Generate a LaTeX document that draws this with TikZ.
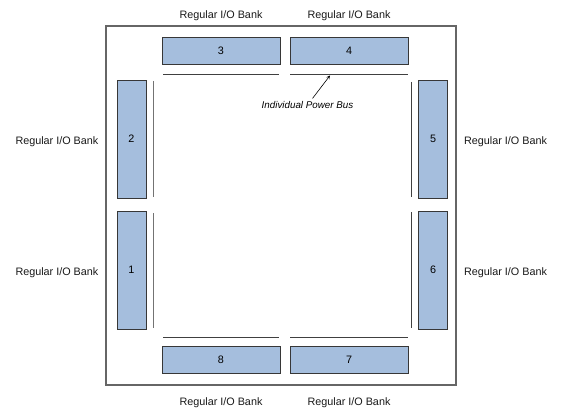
\documentclass[tikz,border=0pt]{standalone}
\usepackage{fontspec}
\setmainfont{Liberation Sans}
\usepackage{tikz}
\usetikzlibrary{positioning}
\definecolor{bankfill}{RGB}{165,190,221}
\definecolor{bankline}{RGB}{55,55,55}

\begin{document}
\begin{tikzpicture}[x=1pt, y=-1pt,
		font=\fontsize{10.8}{13}\selectfont,
		hbank/.style={draw=bankline, fill=bankfill, line width=0.9pt, minimum width=118pt, minimum height=27pt, inner sep=0pt},
		vbank/.style={draw=bankline, fill=bankfill, line width=0.9pt, minimum width=29pt, minimum height=118pt, inner sep=0pt},
		banklabel/.style={inner sep=0pt, text=black!90, yshift=-2.5pt},
		bus/.style={draw=black!75, line width=0.9pt}]
	\useasboundingbox (0,0) rectangle (568,412);
	\draw[draw=black!60, line width=1.1pt] (106,26) rectangle (456,385);
	\node[hbank] (b3) at (221,51) {3};
	\node[hbank] (b4) at (349,51) {4};
	\node[hbank] (b8) at (221,360) {8};
	\node[hbank] (b7) at (349,360) {7};
	\node[vbank] (b2) at (131.5,139) {2};
	\node[vbank] (b1) at (131.5,270) {1};
	\node[vbank] (b5) at (433,139) {5};
	\node[vbank] (b6) at (433,270) {6};
	\node[banklabel, above = 19pt of b3] (l3) {Regular I/O Bank};
	\node[banklabel, above = 19pt of b4] (l4) {Regular I/O Bank};
	\node[banklabel, below = 21pt of b8] (l8) {Regular I/O Bank};
	\node[banklabel, below = 21pt of b7] (l7) {Regular I/O Bank};
	\node[banklabel, left = 18pt of b2] (l2) {Regular I/O Bank};
	\node[banklabel, left = 18pt of b1] (l1) {Regular I/O Bank};
	\node[banklabel, right = 16pt of b5] (l5) {Regular I/O Bank};
	\node[banklabel, right = 16pt of b6] (l6) {Regular I/O Bank};
	\draw[bus] (163,74) -- (279,74);
	\draw[bus] (290,74) -- (408,74);
	\draw[bus] (163,337) -- (279,337);
	\draw[bus] (290,337) -- (408,337);
	\draw[bus, draw=black!55] (153,81) -- (153,197);
	\draw[bus, draw=black!55] (153,213) -- (153,328);
	\draw[bus] (411,82) -- (411,197);
	\draw[bus] (411,212) -- (411,328);
	\node[inner sep=2pt, font=\fontsize{9.8}{12}\selectfont\itshape] (pb) at (307.5,105) {Individual Power Bus};
	\coordinate (pbtip) at (330,75.5);
	\draw[-stealth, line width=0.6pt, shorten <=1pt] (pb) -- (pbtip);
\end{tikzpicture}
\end{document}
